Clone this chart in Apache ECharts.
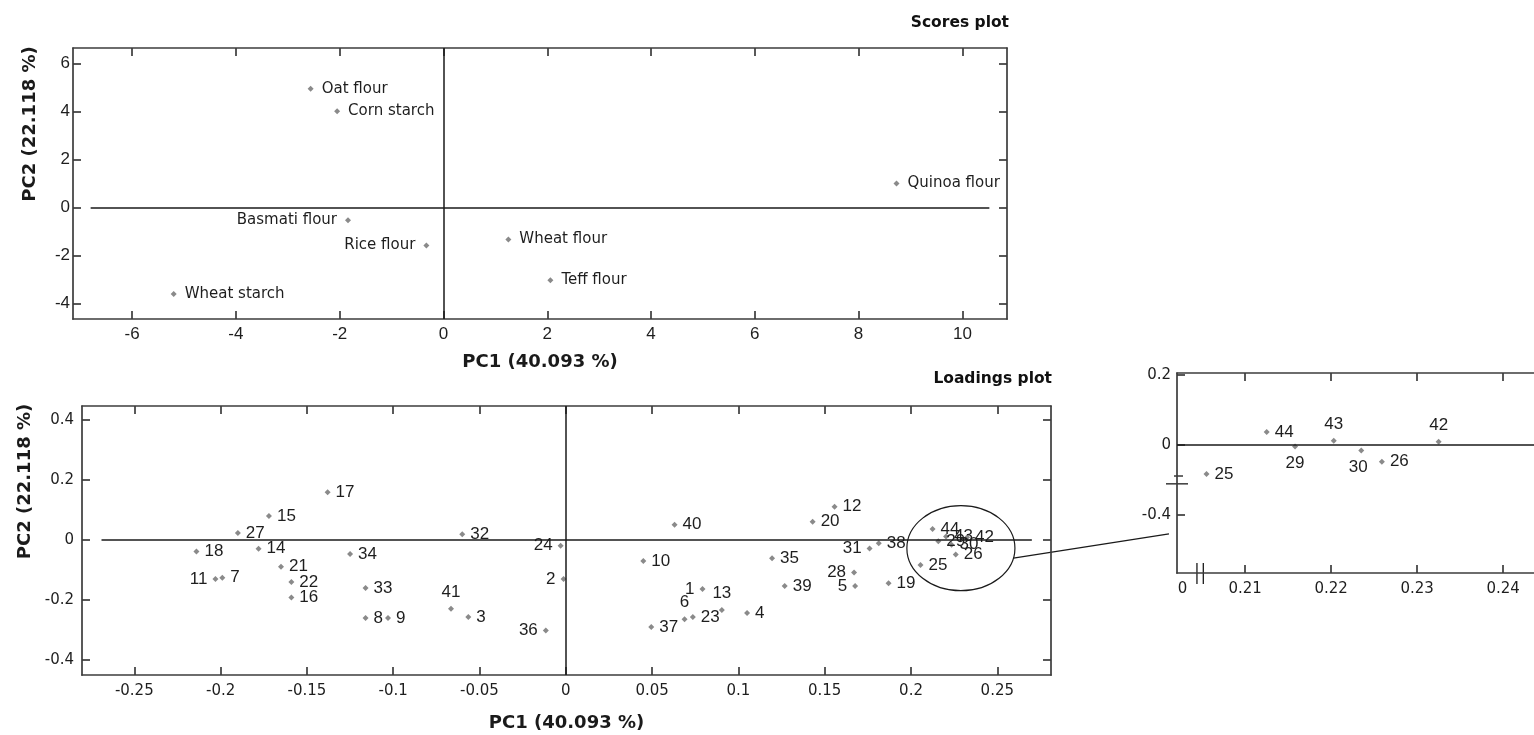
<!DOCTYPE html>
<html><head><meta charset="utf-8">
<script src="https://cdn.jsdelivr.net/npm/echarts@6.0.0/dist/echarts.min.js"></script>
<style>html,body{margin:0;padding:0;background:#fff}#c{width:1534px;height:735px}</style>
</head><body><div id="c"></div>
<script>
// ---------------- DATA ----------------
const scoreNames = ['Oat flour','Corn starch','Basmati flour','Rice flour','Wheat starch','Wheat flour','Teff flour','Quinoa flour'];
const scoreX = [-2.56, -2.05, -1.84, -0.33, -5.2, 1.25, 2.06, 8.73];
const scoreY = [4.94, 4.0, -0.53, -1.58, -3.6, -1.33, -3.03, 1.0];

const varIds = [1,2,3,4,5,6,7,8,9,10,11,12,13,14,15,16,17,18,19,20,21,22,23,24,25,26,27,28,29,30,31,32,33,34,35,36,37,38,39,40,41,42,43,44];
const varX = [0.0792,-0.0013,-0.0565,0.105,0.1676,0.0688,-0.199,-0.116,-0.103,0.0449,
              -0.203,0.1557,0.0904,-0.178,-0.172,-0.159,-0.138,-0.214,0.187,0.143,
              -0.165,-0.159,0.0736,-0.003,0.2055,0.2259,-0.190,0.167,0.2158,0.2235,
              0.176,-0.060,-0.116,-0.125,0.1195,-0.0116,0.0495,0.1813,0.1268,0.063,
              -0.0665,0.2325,0.2203,0.2125];
const varY = [-0.163,-0.13,-0.257,-0.243,-0.153,-0.264,-0.126,-0.26,-0.26,-0.07,
              -0.13,0.111,-0.233,-0.029,0.08,-0.192,0.159,-0.038,-0.144,0.061,
              -0.089,-0.14,-0.257,-0.019,-0.083,-0.048,0.023,-0.108,-0.004,-0.016,
              -0.028,0.019,-0.16,-0.047,-0.061,-0.302,-0.29,-0.011,-0.153,0.051,
              -0.229,0.0095,0.012,0.037];
const insetIds = [25,26,29,30,42,43,44];

const scoresXTicks = [-6,-4,-2,0,2,4,6,8,10];
const scoresYTicks = [-4,-2,0,2,4,6];
const loadXTicks = [-0.25,-0.2,-0.15,-0.1,-0.05,0,0.05,0.1,0.15,0.2,0.25];
const loadYTicks = [-0.4,-0.2,0,0.2,0.4];
const insetXTickVals = [0.21,0.22,0.23,0.24];
const insetXLabelVals = [0.2027,0.21,0.22,0.23,0.24];
const insetXLabelText = ['0','0.21','0.22','0.23','0.24'];
const insetYTickVals = [0.2,0,-0.2];
const insetYLabelText = ['0.2','0','-0.4'];

const pc1Name = 'PC1 (40.093 %)';
const pc2Name = 'PC2 (22.118 %)';

// ---------------- STYLE ----------------
const AX = '#3c3c3c';
const TXT = '#1e1e1e';
const scoreLabelPos = {'Basmati flour':'left','Rice flour':'left'};
const varLabelPos = {
  11:['left',[0,4]], 24:['left',[0,5]], 2:['left',[0,0]], 36:['left',[0,0]],
  1:['left',[0,-5]], 31:['left',[0,2]], 28:['left',[0,0]], 5:['left',[0,7]],
  41:['top',[6,0]], 13:['top',[2,0]], 6:['top',[-2,0]],
  23:['right',[0,7]], 19:['right',[0,7]], 38:['right',[0,6]], 27:['right',[-3,0]], 14:['right',[-3,0]]
};
const insetLabelPos = {29:['bottom',[0,0]], 30:['bottom',[-3,0]], 43:['top',[0,0]], 42:['top',[0,0]]};

function axis(gridIndex, position, min, max, ticks, label, extra) {
  const a = {
    type:'value', gridIndex, position, min, max,
    axisLine:{show:true, onZero:false, lineStyle:{color:AX, width:1.7}},
    axisTick:{show:true, inside:true, length:8, customValues:ticks, lineStyle:{color:AX, width:1.7}},
    axisLabel: label ? Object.assign({show:true}, label) : {show:false},
    splitLine:{show:false}
  };
  return Object.assign(a, extra || {});
}
const scoresLbl = {customValues: scoresXTicks, fontFamily:'Liberation Sans', fontSize:17, color:TXT, margin:7};
const scoresYLbl = {customValues: scoresYTicks, fontFamily:'Liberation Sans', fontSize:17, color:TXT, margin:3};
const loadXLbl = {customValues: loadXTicks, fontFamily:'DejaVu Sans', fontSize:15, color:TXT, margin:9};
const loadYLbl = {customValues: loadYTicks, fontFamily:'DejaVu Sans', fontSize:15, color:TXT, margin:8};
const insetXLbl = {customValues: insetXLabelVals, fontFamily:'DejaVu Sans', fontSize:15, color:TXT, margin:9,
  formatter: v => { const i = insetXLabelVals.findIndex(t => Math.abs(t - v) < 1e-9); return i >= 0 ? insetXLabelText[i] : ''; }};
const insetYLbl = {customValues: insetYTickVals, fontFamily:'DejaVu Sans', fontSize:15, color:TXT, margin:6,
  formatter: v => { const i = insetYTickVals.findIndex(t => Math.abs(t - v) < 1e-9); return i >= 0 ? insetYLabelText[i] : ''; }};
const nameStyle = {fontFamily:'DejaVu Sans', fontWeight:'bold', fontSize:18, color:'#1a1a1a'};

const zeroLine = {color:'#1a1a1a', width:1.5, type:'solid'};

function varLabel(id, map) {
  const p = map[id] || ['right',[0,0]];
  return {position:p[0], offset:p[1]};
}

const scoreData = scoreNames.map((n,i) => ({name:n, value:[scoreX[i], scoreY[i]],
  label:{position: scoreLabelPos[n] || 'right'}}));
const loadData = varIds.map((id,i) => ({name:String(id), value:[varX[i], varY[i]], label:varLabel(id, varLabelPos)}));
const insetData = insetIds.map(id => { const i = varIds.indexOf(id);
  return {name:String(id), value:[varX[i], varY[i]], label:varLabel(id, insetLabelPos)}; });

const markerStyle = {color:'#8a8a8a', opacity:1};
const chart = echarts.init(document.getElementById('c'), null, {renderer:'canvas'});
const option = {
  animation:false,
  backgroundColor:'#fff',
  title:[
    {text:'Scores plot', right:525, top:15, padding:0, textStyle:{fontFamily:'DejaVu Sans', fontWeight:'bold', fontSize:15.5, color:'#111'}},
    {text:'Loadings plot', right:482, top:371, padding:0, textStyle:{fontFamily:'DejaVu Sans', fontWeight:'bold', fontSize:15.5, color:'#111'}}
  ],
  grid:[
    {left:73, top:48, width:934, height:271},
    {left:82, top:406, width:969, height:269},
    {left:1177, top:373, width:370, height:200}
  ],
  xAxis:[
    axis(0,'bottom',-7.14,10.86,scoresXTicks,scoresLbl,{name:pc1Name, nameLocation:'middle', nameGap:34, nameTextStyle:nameStyle}),
    axis(0,'top',-7.14,10.86,scoresXTicks,null),
    axis(1,'bottom',-0.2803,0.2811,loadXTicks,loadXLbl,{name:pc1Name, nameLocation:'middle', nameGap:39, nameTextStyle:nameStyle}),
    axis(1,'top',-0.2803,0.2811,loadXTicks,null),
    axis(2,'bottom',0.20207,0.24359,insetXTickVals,insetXLbl),
    axis(2,'top',0.20207,0.24359,insetXTickVals,null)
  ],
  yAxis:[
    axis(0,'left',-4.638,6.635,scoresYTicks,scoresYLbl),
    axis(0,'right',-4.638,6.635,scoresYTicks,null),
    axis(1,'left',-0.45,0.4467,loadYTicks,loadYLbl),
    axis(1,'right',-0.45,0.4467,loadYTicks,null),
    axis(2,'left',-0.3657,0.2057,insetYTickVals,insetYLbl)
  ],
  series:[
    {type:'scatter', xAxisIndex:0, yAxisIndex:0, symbol:'diamond', symbolSize:6,
     itemStyle:markerStyle, data:scoreData, silent:true,
     label:{show:true, formatter:'{b}', distance:8, fontFamily:'DejaVu Sans', fontSize:15, color:TXT, opacity:1},
     markLine:{silent:true, symbol:'none', label:{show:false}, lineStyle:zeroLine,
       data:[[{coord:[-6.8,0]},{coord:[10.52,0]}], {xAxis:0}]}},
    {type:'scatter', xAxisIndex:2, yAxisIndex:2, symbol:'diamond', symbolSize:6,
     itemStyle:markerStyle, data:loadData, silent:true,
     label:{show:true, formatter:'{b}', distance:5, fontFamily:'Liberation Sans', fontSize:17, color:TXT, opacity:1},
     labelLayout:{hideOverlap:false},
     markLine:{silent:true, symbol:'none', label:{show:false}, lineStyle:zeroLine,
       data:[[{coord:[-0.269,0]},{coord:[0.270,0]}], {xAxis:0}]}},
    {type:'scatter', xAxisIndex:4, yAxisIndex:4, symbol:'diamond', symbolSize:6,
     itemStyle:markerStyle, data:insetData, silent:true,
     label:{show:true, formatter:'{b}', distance:5, fontFamily:'Liberation Sans', fontSize:17, color:TXT, opacity:1},
     markLine:{silent:true, symbol:'none', label:{show:false}, lineStyle:zeroLine, data:[{yAxis:0}]}}
  ]
};
chart.setOption(option);

// annotations: ellipse around cluster, connector, axis-break marks, rotated axis names
const ell = {cx:0.2289, cy:-0.0273, rx:0.0313, ry:0.1417};
const c0 = chart.convertToPixel({seriesIndex:1}, [ell.cx, ell.cy]);
const cX = chart.convertToPixel({seriesIndex:1}, [ell.cx + ell.rx, ell.cy]);
const cY = chart.convertToPixel({seriesIndex:1}, [ell.cx, ell.cy + ell.ry]);
const rxp = cX[0] - c0[0], ryp = c0[1] - cY[1];
const ang = 0.237;
const lineStart = [c0[0] + rxp*Math.cos(ang), c0[1] + ryp*Math.sin(ang)];
const lineEnd = chart.convertToPixel({seriesIndex:2}, [0.20207, -0.254]);
const b1 = chart.convertToPixel({seriesIndex:2}, [0.20207, -0.0886]);
const b2 = chart.convertToPixel({seriesIndex:2}, [0.20207, -0.111]);
const v1 = chart.convertToPixel({seriesIndex:2}, [0.20439, -0.3657]);
const v2 = chart.convertToPixel({seriesIndex:2}, [0.20513, -0.3657]);
const ls = {stroke:'#1a1a1a', lineWidth:1.3};
chart.setOption({
  graphic:[
    {type:'ellipse', shape:{cx:c0[0], cy:c0[1], rx:rxp, ry:ryp}, style:{fill:'none', stroke:'#1a1a1a', lineWidth:1.2}, silent:true},
    {type:'line', shape:{x1:lineStart[0], y1:lineStart[1], x2:lineEnd[0]-8, y2:lineEnd[1]}, style:ls, silent:true},
    {type:'line', shape:{x1:b1[0]-3, y1:b1[1], x2:b1[0]+6, y2:b1[1]}, style:ls, silent:true},
    {type:'line', shape:{x1:b2[0]-11, y1:b2[1], x2:b2[0]+11, y2:b2[1]}, style:ls, silent:true},
    {type:'line', shape:{x1:v1[0], y1:v1[1]-10, x2:v1[0], y2:v1[1]+11}, style:ls, silent:true},
    {type:'line', shape:{x1:v2[0], y1:v2[1]-10, x2:v2[0], y2:v2[1]+11}, style:ls, silent:true},
    {type:'text', x:30.5, y:124, rotation:Math.PI/2,
     style:{text:pc2Name, font:'bold 18px "DejaVu Sans"', fill:'#1a1a1a', align:'center', verticalAlign:'middle', textAlign:'center', textVerticalAlign:'middle'}, silent:true},
    {type:'text', x:25, y:481.5, rotation:Math.PI/2,
     style:{text:pc2Name, font:'bold 18px "DejaVu Sans"', fill:'#1a1a1a', align:'center', verticalAlign:'middle', textAlign:'center', textVerticalAlign:'middle'}, silent:true}
  ]
});
</script></body></html>
